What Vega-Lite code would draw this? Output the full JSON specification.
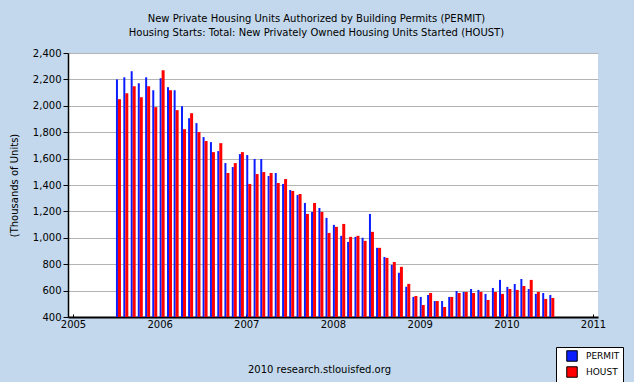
{
  "$schema": "https://vega.github.io/schema/vega-lite/v6.json",
  "width": 530,
  "height": 264,
  "autosize": "none",
  "padding": {"left": 68, "top": 53, "right": 36, "bottom": 65},
  "background": "#C3D8EC",
  "title": {
    "text": ["New Private Housing Units Authorized by Building Permits (PERMIT)", "Housing Starts: Total: New Privately Owned Housing Units Started (HOUST)"],
    "font": "DejaVu Sans",
    "fontSize": 10,
    "fontWeight": "normal",
    "color": "#000000",
    "anchor": "middle",
    "frame": "bounds",
    "lineHeight": 14,
    "offset": 10
  },
  "config": {
    "view": {"fill": "white", "stroke": null},
    "axis": {"labelFont": "DejaVu Sans", "titleFont": "DejaVu Sans", "labelColor": "#000000", "titleColor": "#000000", "labelFontSize": 10, "titleFontSize": 10, "titleFontWeight": "normal"},
    "axisY": {
      "values": [400, 600, 800, 1000, 1200, 1400, 1600, 1800, 2000, 2200, 2400],
      "format": ",.0f",
      "titlePadding": 13,
      "grid": true,
      "gridColor": "#B4B4B4",
      "gridWidth": 1,
      "domainColor": "#000000",
      "domainWidth": 1.5,
      "tickColor": "#000000",
      "tickSize": 5,
      "labelPadding": 2,
      "labelOverlap": false
    },
    "legend": {"labelFont": "DejaVu Sans"}
  },
  "data": {"values": [
    {"date": "2005-07-01", "PERMIT": 2200, "HOUST": 2050},
    {"date": "2005-08-01", "PERMIT": 2216, "HOUST": 2095},
    {"date": "2005-09-01", "PERMIT": 2262, "HOUST": 2148},
    {"date": "2005-10-01", "PERMIT": 2171, "HOUST": 2065},
    {"date": "2005-11-01", "PERMIT": 2216, "HOUST": 2148},
    {"date": "2005-12-01", "PERMIT": 2118, "HOUST": 1990},
    {"date": "2006-01-01", "PERMIT": 2209, "HOUST": 2269},
    {"date": "2006-02-01", "PERMIT": 2141, "HOUST": 2118},
    {"date": "2006-03-01", "PERMIT": 2118, "HOUST": 1967},
    {"date": "2006-04-01", "PERMIT": 1997, "HOUST": 1823},
    {"date": "2006-05-01", "PERMIT": 1906, "HOUST": 1944},
    {"date": "2006-06-01", "PERMIT": 1869, "HOUST": 1801},
    {"date": "2006-07-01", "PERMIT": 1763, "HOUST": 1733},
    {"date": "2006-08-01", "PERMIT": 1725, "HOUST": 1649},
    {"date": "2006-09-01", "PERMIT": 1657, "HOUST": 1717},
    {"date": "2006-10-01", "PERMIT": 1566, "HOUST": 1491},
    {"date": "2006-11-01", "PERMIT": 1536, "HOUST": 1566},
    {"date": "2006-12-01", "PERMIT": 1634, "HOUST": 1649},
    {"date": "2007-01-01", "PERMIT": 1627, "HOUST": 1408},
    {"date": "2007-02-01", "PERMIT": 1597, "HOUST": 1483},
    {"date": "2007-03-01", "PERMIT": 1597, "HOUST": 1498},
    {"date": "2007-04-01", "PERMIT": 1468, "HOUST": 1491},
    {"date": "2007-05-01", "PERMIT": 1491, "HOUST": 1415},
    {"date": "2007-06-01", "PERMIT": 1408, "HOUST": 1445},
    {"date": "2007-07-01", "PERMIT": 1362, "HOUST": 1355},
    {"date": "2007-08-01", "PERMIT": 1324, "HOUST": 1332},
    {"date": "2007-09-01", "PERMIT": 1264, "HOUST": 1181},
    {"date": "2007-10-01", "PERMIT": 1196, "HOUST": 1264},
    {"date": "2007-11-01", "PERMIT": 1226, "HOUST": 1196},
    {"date": "2007-12-01", "PERMIT": 1151, "HOUST": 1037},
    {"date": "2008-01-01", "PERMIT": 1098, "HOUST": 1083},
    {"date": "2008-02-01", "PERMIT": 1015, "HOUST": 1105},
    {"date": "2008-03-01", "PERMIT": 969, "HOUST": 1007},
    {"date": "2008-04-01", "PERMIT": 1007, "HOUST": 1015},
    {"date": "2008-05-01", "PERMIT": 1000, "HOUST": 977},
    {"date": "2008-06-01", "PERMIT": 1181, "HOUST": 1045},
    {"date": "2008-07-01", "PERMIT": 924, "HOUST": 924},
    {"date": "2008-08-01", "PERMIT": 855, "HOUST": 848},
    {"date": "2008-09-01", "PERMIT": 795, "HOUST": 817},
    {"date": "2008-10-01", "PERMIT": 735, "HOUST": 780},
    {"date": "2008-11-01", "PERMIT": 629, "HOUST": 651},
    {"date": "2008-12-01", "PERMIT": 552, "HOUST": 559},
    {"date": "2009-01-01", "PERMIT": 552, "HOUST": 491},
    {"date": "2009-02-01", "PERMIT": 567, "HOUST": 582},
    {"date": "2009-03-01", "PERMIT": 521, "HOUST": 521},
    {"date": "2009-04-01", "PERMIT": 521, "HOUST": 476},
    {"date": "2009-05-01", "PERMIT": 552, "HOUST": 552},
    {"date": "2009-06-01", "PERMIT": 597, "HOUST": 582},
    {"date": "2009-07-01", "PERMIT": 590, "HOUST": 590},
    {"date": "2009-08-01", "PERMIT": 612, "HOUST": 582},
    {"date": "2009-09-01", "PERMIT": 605, "HOUST": 590},
    {"date": "2009-10-01", "PERMIT": 575, "HOUST": 529},
    {"date": "2009-11-01", "PERMIT": 620, "HOUST": 590},
    {"date": "2009-12-01", "PERMIT": 681, "HOUST": 575},
    {"date": "2010-01-01", "PERMIT": 628, "HOUST": 612},
    {"date": "2010-02-01", "PERMIT": 650, "HOUST": 605},
    {"date": "2010-03-01", "PERMIT": 688, "HOUST": 635},
    {"date": "2010-04-01", "PERMIT": 612, "HOUST": 681},
    {"date": "2010-05-01", "PERMIT": 575, "HOUST": 590},
    {"date": "2010-06-01", "PERMIT": 582, "HOUST": 537},
    {"date": "2010-07-01", "PERMIT": 567, "HOUST": 544}
  ]},
  "encoding": {
    "x": {
      "field": "date",
      "type": "temporal",
      "scale": {"type": "utc", "domain": [{"year": 2005, "month": 1, "date": 1, "utc": true}, {"year": 2011, "month": 1, "date": 1, "utc": true}]},
      "axis": {
        "values": [{"year": 2005, "month": 1, "date": 1, "utc": true}, {"year": 2006, "month": 1, "date": 1, "utc": true}, {"year": 2007, "month": 1, "date": 1, "utc": true}, {"year": 2008, "month": 1, "date": 1, "utc": true}, {"year": 2009, "month": 1, "date": 1, "utc": true}, {"year": 2010, "month": 1, "date": 1, "utc": true}, {"year": 2011, "month": 1, "date": 1, "utc": true}],
        "format": "%Y",
        "formatType": "utc",
        "title": "2010 research.stlouisfed.org",
        "titleX": 251,
        "titleY": 52,
        "titleBaseline": "middle",
        "grid": false,
        "domainColor": "#000000",
        "domainWidth": 2,
        "tickColor": "#000000",
        "tickSize": -3,
        "labelPadding": 5,
        "labelFlush": false,
        "labelOverlap": false
      }
    }
  },
  "layer": [
    {
      "mark": {"type": "bar", "width": 2, "xOffset": 1, "opacity": 1},
      "encoding": {
        "y": {
          "field": "PERMIT",
          "type": "quantitative",
          "scale": {"domain": [400, 2400], "zero": false, "nice": false},
          "axis": {"title": "(Thousands of Units)"}
        },
        "y2": {"datum": 400},
        "color": {
          "datum": "PERMIT",
          "type": "nominal",
          "scale": {"domain": ["PERMIT", "HOUST"], "range": ["#0A1EFF", "#FF0000"]},
          "legend": {
            "title": null,
            "orient": "none",
            "legendX": 488,
            "legendY": 294,
            "symbolType": "square",
            "symbolSize": 110,
            "symbolStrokeColor": "#000000",
            "symbolStrokeWidth": 1,
            "symbolOpacity": 1,
            "symbolOffset": 7,
            "labelOffset": 8,
            "labelFontSize": 9,
            "labelColor": "#000000",
            "rowPadding": 0,
            "padding": 3,
            "strokeColor": "#000000",
            "fillColor": "#FFFFFF"
          }
        }
      }
    },
    {
      "mark": {"type": "bar", "width": 3, "xOffset": 3.5, "opacity": 1},
      "encoding": {
        "y": {"field": "HOUST", "type": "quantitative", "axis": {"title": "(Thousands of Units)"}},
        "y2": {"datum": 400},
        "color": {"datum": "HOUST", "type": "nominal"}
      }
    }
  ]
}
